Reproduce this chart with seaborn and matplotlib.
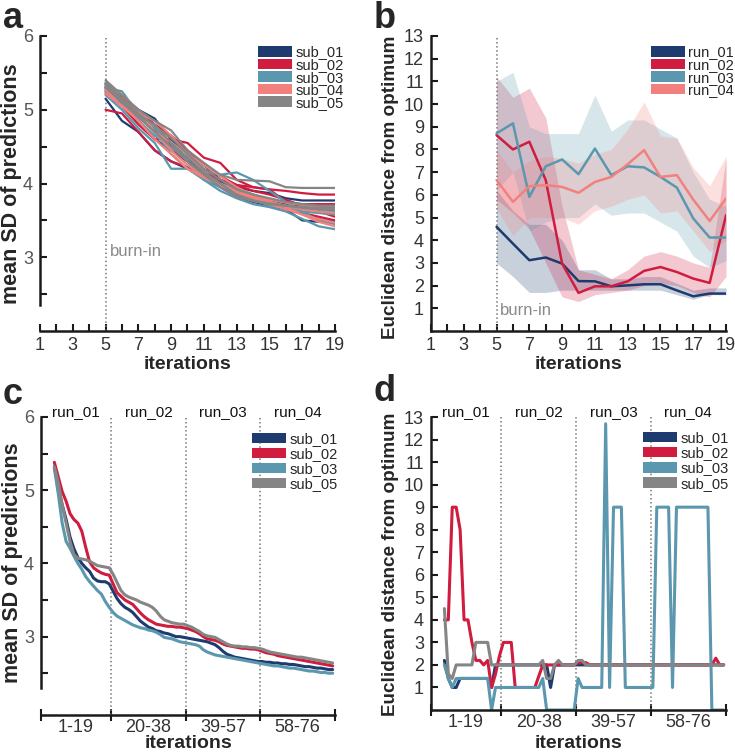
import numpy as np
import pandas as pd
import matplotlib
matplotlib.use("Agg")
import matplotlib.pyplot as plt
import seaborn as sns
from matplotlib.patches import Patch

sns.set_style("ticks")
plt.rcParams['font.family'] = ['Liberation Sans', 'DejaVu Sans']

###########################################################
# DATA
###########################################################

iters_ab = list(range(5, 20))
iters_cd = list(range(5, 77))

subjects = ["sub_01", "sub_02", "sub_03", "sub_04", "sub_05"]
runs = ["run_01", "run_02", "run_03", "run_04"]
subjects_cd = ["sub_01", "sub_02", "sub_03", "sub_05"]
run_ranges = ["1-19", "20-38", "39-57", "58-76"]

# panel a: mean SD of predictions, one line per subject and run
a_sub_01 = [[5.15, 4.85, 4.70, 4.45, 4.30, 4.20, 4.10, 4.02, 3.95, 3.90, 3.87, 3.80, 3.77, 3.77, 3.77],
            [5.30, 5.05, 4.85, 4.60, 4.45, 4.30, 4.15, 4.00, 3.90, 3.80, 3.72, 3.65, 3.50, 3.48, 3.50],
            [5.25, 5.10, 4.95, 4.70, 4.52, 4.35, 4.12, 3.95, 3.82, 3.75, 3.70, 3.65, 3.60, 3.52, 3.48],
            [5.35, 5.15, 5.00, 4.88, 4.60, 4.40, 4.25, 4.05, 3.93, 3.85, 3.78, 3.72, 3.68, 3.64, 3.62]]
a_sub_02 = [[5.00, 4.95, 4.70, 4.45, 4.30, 4.22, 4.15, 4.05, 3.98, 3.95, 3.92, 3.90, 3.87, 3.85, 3.85],
            [5.22, 5.05, 4.80, 4.60, 4.60, 4.55, 4.35, 4.28, 4.05, 3.95, 3.92, 3.75, 3.72, 3.72, 3.72],
            [5.28, 5.10, 4.90, 4.72, 4.50, 4.30, 4.10, 3.98, 3.85, 3.78, 3.72, 3.66, 3.60, 3.55, 3.50],
            [5.32, 5.18, 5.00, 4.80, 4.65, 4.45, 4.25, 4.10, 3.98, 3.90, 3.85, 3.78, 3.70, 3.62, 3.55]]
a_sub_03 = [[5.30, 5.25, 4.95, 4.70, 4.40, 4.20, 4.10, 4.00, 3.92, 3.80, 3.72, 3.68, 3.65, 3.63, 3.62],
            [5.25, 5.10, 4.85, 4.65, 4.50, 4.35, 4.18, 4.12, 4.15, 4.05, 3.90, 3.75, 3.62, 3.50, 3.45],
            [5.33, 5.15, 4.90, 4.75, 4.55, 4.30, 4.05, 3.90, 3.80, 3.72, 3.68, 3.62, 3.52, 3.42, 3.38],
            [5.20, 5.00, 4.75, 4.55, 4.20, 4.20, 4.05, 3.95, 3.85, 3.78, 3.70, 3.66, 3.62, 3.60, 3.58]]
a_sub_04 = [[5.27, 5.05, 4.90, 4.70, 4.55, 4.40, 4.25, 4.10, 3.95, 3.85, 3.78, 3.74, 3.71, 3.69, 3.68],
            [5.30, 5.15, 4.95, 4.85, 4.65, 4.40, 4.15, 4.00, 3.90, 3.82, 3.75, 3.68, 3.58, 3.48, 3.42],
            [5.35, 5.20, 5.00, 4.70, 4.45, 4.25, 4.10, 3.98, 3.88, 3.80, 3.72, 3.65, 3.58, 3.52, 3.47],
            [5.22, 5.05, 4.85, 4.60, 4.40, 4.20, 4.08, 3.98, 3.90, 3.82, 3.75, 3.70, 3.65, 3.62, 3.60]]
a_sub_05 = [[5.40, 5.20, 5.00, 4.85, 4.72, 4.45, 4.28, 4.12, 4.05, 4.04, 4.03, 3.95, 3.94, 3.94, 3.94],
            [5.37, 5.15, 4.95, 4.78, 4.62, 4.40, 4.20, 4.05, 3.92, 3.85, 3.80, 3.75, 3.72, 3.70, 3.70],
            [5.35, 5.10, 4.90, 4.70, 4.50, 4.30, 4.12, 3.95, 3.82, 3.76, 3.72, 3.70, 3.67, 3.65, 3.65],
            [5.30, 5.12, 4.92, 4.80, 4.55, 4.35, 4.15, 4.00, 3.85, 3.77, 3.73, 3.70, 3.68, 3.67, 3.67]]

# panel b: euclidean distance from optimum, mean and band per run
b_run_01 = [4.59, 3.85, 3.12, 3.24, 2.97, 2.20, 2.19, 1.97, 2.01, 2.06, 2.06, 1.79, 1.53, 1.65, 1.65]
b_run_02 = [8.63, 8.00, 8.34, 6.65, 2.97, 1.68, 1.97, 1.97, 2.19, 2.65, 2.82, 2.60, 2.31, 2.12, 5.10]
b_run_03 = [8.71, 9.15, 5.91, 7.26, 7.56, 6.91, 8.04, 6.87, 7.26, 7.21, 6.79, 6.32, 4.96, 4.12, 4.12]
b_run_04 = [6.65, 5.69, 6.38, 6.43, 6.35, 6.09, 6.57, 6.79, 7.35, 7.97, 6.79, 6.87, 5.79, 4.85, 5.84]

b_run_01_lo = [3.0, 2.4, 1.7, 1.7, 1.8, 1.8, 1.8, 1.8, 1.8, 1.8, 1.8, 1.6, 1.4, 1.6, 1.6]
b_run_01_hi = [6.2, 5.3, 4.7, 4.7, 4.0, 2.7, 2.7, 2.3, 2.3, 2.4, 2.4, 2.1, 1.8, 1.9, 1.9]
b_run_02_lo = [5.8, 5.2, 4.5, 3.0, 1.5, 1.3, 1.6, 1.7, 1.8, 2.0, 2.1, 2.0, 1.7, 1.5, 2.4]
b_run_02_hi = [11.2, 10.3, 10.7, 9.4, 5.5, 2.7, 2.5, 2.3, 2.7, 3.3, 3.5, 3.3, 3.0, 2.8, 7.6]
b_run_03_lo = [6.2, 7.0, 4.4, 4.8, 5.0, 5.0, 5.6, 5.1, 5.2, 5.2, 4.8, 4.4, 3.3, 2.8, 3.1]
b_run_03_hi = [11.0, 11.4, 9.0, 8.7, 8.7, 8.7, 10.4, 8.8, 9.3, 9.3, 8.9, 8.5, 7.0, 5.8, 5.5]
b_run_04_lo = [5.4, 4.2, 5.0, 5.0, 5.0, 4.7, 5.3, 5.5, 5.8, 6.0, 5.2, 5.3, 4.4, 3.5, 4.0]
b_run_04_hi = [8.0, 7.0, 7.5, 7.7, 7.6, 7.4, 7.8, 8.0, 8.9, 10.1, 8.6, 8.5, 7.2, 6.4, 7.7]

# panel c: mean SD of predictions across concatenated runs
c_sub_01 = [5.32, 5.02, 4.80, 4.60, 4.36, 4.20, 4.08, 4.00, 3.94, 3.89,
            3.80, 3.76, 3.75, 3.75, 3.72, 3.62, 3.52, 3.45, 3.40, 3.37,
            3.33, 3.27, 3.21, 3.17, 3.13, 3.11, 3.08, 3.07, 3.05, 3.04,
            3.02, 3.00, 3.00, 2.99, 2.98, 2.97, 2.96, 2.95, 2.94, 2.93,
            2.91, 2.89, 2.85, 2.80, 2.76, 2.74, 2.72, 2.71, 2.70, 2.69,
            2.68, 2.67, 2.66, 2.66, 2.65, 2.65, 2.64, 2.64, 2.63, 2.63,
            2.62, 2.62, 2.61, 2.60, 2.59, 2.59, 2.58, 2.57, 2.57, 2.56,
            2.55, 2.55]
c_sub_02 = [5.38, 5.18, 4.98, 4.85, 4.68, 4.60, 4.55, 4.44, 4.22, 4.02,
            3.94, 3.90, 3.87, 3.85, 3.84, 3.72, 3.60, 3.55, 3.50, 3.47,
            3.44, 3.38, 3.32, 3.27, 3.23, 3.20, 3.17, 3.16, 3.15, 3.14,
            3.14, 3.13, 3.13, 3.12, 3.11, 3.09, 3.07, 3.04, 3.00, 2.97,
            2.96, 2.95, 2.93, 2.90, 2.88, 2.87, 2.86, 2.85, 2.84, 2.84,
            2.83, 2.83, 2.82, 2.80, 2.78, 2.77, 2.76, 2.74, 2.73, 2.72,
            2.71, 2.70, 2.69, 2.68, 2.67, 2.66, 2.65, 2.64, 2.63, 2.62,
            2.61, 2.60]
c_sub_03 = [5.30, 4.95, 4.55, 4.30, 4.21, 4.10, 4.00, 3.92, 3.82, 3.75,
            3.69, 3.63, 3.58, 3.48, 3.40, 3.33, 3.28, 3.25, 3.22, 3.19,
            3.16, 3.14, 3.12, 3.11, 3.09, 3.08, 3.06, 3.03, 2.99, 2.98,
            2.97, 2.95, 2.93, 2.92, 2.91, 2.90, 2.89, 2.87, 2.82, 2.79,
            2.77, 2.75, 2.74, 2.73, 2.72, 2.71, 2.70, 2.69, 2.68, 2.67,
            2.66, 2.65, 2.64, 2.63, 2.62, 2.61, 2.60, 2.60, 2.59, 2.58,
            2.57, 2.57, 2.56, 2.55, 2.54, 2.53, 2.53, 2.52, 2.51, 2.51,
            2.50, 2.50]
c_sub_05 = [5.32, 5.10, 4.80, 4.55, 4.30, 4.12, 4.07, 4.06, 4.05, 4.03,
            4.00, 3.97, 3.96, 3.95, 3.94, 3.85, 3.74, 3.63, 3.57, 3.54,
            3.52, 3.50, 3.47, 3.45, 3.43, 3.40, 3.35, 3.28, 3.23, 3.21,
            3.19, 3.18, 3.17, 3.17, 3.15, 3.13, 3.10, 3.07, 3.03, 3.01,
            3.00, 2.99, 2.96, 2.93, 2.90, 2.88, 2.87, 2.87, 2.86, 2.86,
            2.85, 2.85, 2.84, 2.83, 2.81, 2.79, 2.78, 2.77, 2.76, 2.75,
            2.74, 2.73, 2.72, 2.72, 2.71, 2.70, 2.69, 2.68, 2.67, 2.66,
            2.65, 2.64]

# panel d: euclidean distance from optimum across concatenated runs
d_sub_01 = [2.2, 1.4, 1.0, 1.0, 1.4, 1.4, 1.4, 1.4, 1.4, 1.4,
            1.4, 1.4, 1.0, 2, 2, 2, 2, 2, 2, 2,
            2, 2, 2, 2, 2, 2, 2, 1.0, 2, 2,
            2, 2, 2, 2, 2, 2, 2, 2, 2, 2,
            2, 2, 2, 2, 2, 2, 2, 2, 2, 2,
            2, 2, 2, 2, 2, 2, 2, 2, 2, 2,
            2, 2, 2, 2, 2, 2, 2, 2, 2, 2,
            2, 2]
d_sub_02 = [4, 4, 9, 9, 8, 4, 4, 3, 2.2, 2.2,
            2.0, 2.2, 1.0, 1.6, 2.4, 3, 3, 3, 1.0, 1.0,
            1, 1, 1, 1, 1.5, 2, 2, 2, 2, 2,
            2, 2, 2, 2, 2.1, 2.1, 2.1, 2, 2, 2,
            2, 2, 2, 2, 2, 2, 2, 2, 2, 2,
            2, 2, 2, 2, 2, 2, 2, 2, 2, 2,
            2, 2, 2, 2, 2, 2, 2, 2, 2, 2.3,
            2, 2]
d_sub_03 = [2, 1.4, 1.0, 1.4, 1.4, 1.4, 1.4, 1.4, 1.4, 1.4,
            1.4, 1.4, 0, 1, 1, 1, 1, 1, 1, 1,
            1, 1, 1, 1, 1, 1.4, 0, 0, 0, 0,
            0, 0, 0, 0, 1.4, 1, 1, 1, 1, 1,
            1, 12.7, 1, 9, 9, 9, 1, 1, 1, 1,
            1, 1, 1, 1, 9, 9, 9, 9, 1, 9,
            9, 9, 9, 9, 9, 9, 9, 9, 0, 0,
            0, 0]
d_sub_05 = [4.5, 1.6, 1.4, 2, 2, 2, 2, 2, 3, 3,
            3, 3, 2, 2, 2, 2, 2, 2, 2, 2,
            2, 2, 2, 2, 2, 2.2, 1.4, 1.4, 2, 2.2,
            2, 2, 2, 2, 2.2, 2.2, 2, 2, 2, 2,
            2, 2, 2, 2, 2, 2, 2, 2, 2, 2,
            2, 2, 2, 2, 2, 2, 2, 2, 2, 2,
            2, 2, 2, 2, 2, 2, 2, 2, 2, 2,
            2, 2]

sub_colors = {"sub_01": "#1d3b6f", "sub_02": "#cf1c3f", "sub_03": "#5b97ae",
              "sub_04": "#f2817d", "sub_05": "#858585"}
run_colors = {"run_01": "#1d3b6f", "run_02": "#cf1c3f", "run_03": "#5b97ae", "run_04": "#f2817d"}

###########################################################
# DATAFRAMES
###########################################################

rows = []
for sub, lines in zip(subjects, [a_sub_01, a_sub_02, a_sub_03, a_sub_04, a_sub_05]):
    for r, vals in enumerate(lines):
        for it, v in zip(iters_ab, vals):
            rows.append((sub, r, it, v))
df_a = pd.DataFrame(rows, columns=["subject", "run", "iteration", "sd"])

b_means = [b_run_01, b_run_02, b_run_03, b_run_04]
b_los = [b_run_01_lo, b_run_02_lo, b_run_03_lo, b_run_04_lo]
b_his = [b_run_01_hi, b_run_02_hi, b_run_03_hi, b_run_04_hi]
df_b = pd.DataFrame({"iteration": iters_ab * 4,
                     "dist": sum(b_means, []),
                     "run": np.repeat(runs, len(iters_ab))})

df_c = pd.DataFrame({"iteration": iters_cd * 4,
                     "sd": c_sub_01 + c_sub_02 + c_sub_03 + c_sub_05,
                     "subject": np.repeat(subjects_cd, len(iters_cd))})
df_d = pd.DataFrame({"iteration": iters_cd * 4,
                     "dist": d_sub_01 + d_sub_02 + d_sub_03 + d_sub_05,
                     "subject": np.repeat(subjects_cd, len(iters_cd))})

###########################################################
# HELPERS
###########################################################

def base_style(ax, ycol="#333333"):
    sns.despine(ax=ax)
    for s in ("left", "bottom"):
        ax.spines[s].set_linewidth(1.8)
        ax.spines[s].set_color("#1a1a1a")
    ax.tick_params(which="both", direction="in", length=5, width=1.5, color="#1a1a1a",
                   labelsize=13, labelcolor="#333333")
    ax.tick_params(axis="y", pad=5, labelcolor=ycol)
    ax.tick_params(axis="x", pad=4)


def patch_legend(ax, labels, colors, anchor, spacing):
    handles = [Patch(facecolor=c, edgecolor="none", label=l) for l, c in zip(labels, colors)]
    ax.legend(handles=handles, loc="upper left", bbox_to_anchor=anchor, frameon=False,
              fontsize=10.5, handlelength=2.3, handleheight=0.72, handletextpad=0.25,
              labelspacing=spacing, borderpad=0, borderaxespad=0)


def run_axis(ax):
    bounds = [19.5, 38.5, 57.5]
    centers = [10.5, 29, 48, 67]
    ax.set_xlim(1.6, 76.6)
    ax.set_xticks([1.6] + bounds + [76.6])
    ax.set_xticklabels([""] * 5)
    ax.set_xticks(centers, minor=True)
    ax.set_xticklabels(run_ranges, minor=True)
    ax.tick_params(axis="x", which="major", direction="inout", length=9)
    ax.tick_params(axis="x", which="minor", length=0, pad=3)
    for b in bounds:
        ax.axvline(b, color="#777777", ls=":", lw=1.1, zorder=1)
    for lab, cx in zip(runs, centers):
        ax.text(cx, 1.018, lab, transform=ax.get_xaxis_transform(), ha="center", va="center",
                fontsize=11, color="#111111")


fig = plt.figure(figsize=(7.35, 7.53), dpi=100)
ax_a = fig.add_axes([0.0544, 0.5604, 0.4014, 0.3918])
ax_b = fig.add_axes([0.5864, 0.5604, 0.4014, 0.3918])
ax_c = fig.add_axes([0.0558, 0.0505, 0.4000, 0.3958])
ax_d = fig.add_axes([0.5864, 0.0571, 0.4014, 0.3891])

xlabel_kw = dict(fontsize=14, fontweight="bold")
ylabel_sd_kw = dict(fontsize=15.5, fontweight="bold")
ylabel_dist_kw = dict(fontsize=13.6, fontweight="bold")

###########################################################
# a
###########################################################

sns.lineplot(data=df_a, x="iteration", y="sd", hue="subject", units="run", estimator=None,
             palette=sub_colors, lw=1.6, legend=False, ax=ax_a)
base_style(ax_a, ycol="#555555")
ax_a.set_xlim(1, 19)
ax_a.set_ylim(2, 6)
ax_a.spines["left"].set_bounds(2.35, 6)
ax_a.set_xticks(range(1, 20, 2))
ax_a.set_xticks(range(2, 19, 2), minor=True)
ax_a.set_yticks([3, 4, 5, 6])
ax_a.set_yticklabels(["3", "4", "5", "6"])
ax_a.set_yticks([2.5, 3.5, 4.5, 5.5], minor=True)
ax_a.axvline(5, color="#777777", ls=":", lw=1.1, zorder=1)
ax_a.text(5.25, 3.02, "burn-in", color="#8a8a8a", fontsize=12, va="baseline")
ax_a.set_xlabel("iterations", **xlabel_kw)
ax_a.set_ylabel("mean SD of predictions", **ylabel_sd_kw)
ax_a.xaxis.set_label_coords(0.5, -0.083)
ax_a.yaxis.set_label_coords(-0.062, 0.5)
patch_legend(ax_a, subjects, [sub_colors[s] for s in subjects], (0.739, 0.968), -0.1)

###########################################################
# b
###########################################################

for run, lo, hi in zip(runs, b_los, b_his):
    ax_b.fill_between(iters_ab, lo, hi, color=run_colors[run], alpha=0.24, lw=0)
sns.lineplot(data=df_b, x="iteration", y="dist", hue="run", estimator=None,
             palette=run_colors, lw=1.8, legend=False, ax=ax_b)
base_style(ax_b)
ax_b.set_xlim(1, 19)
ax_b.set_ylim(0, 13)
ax_b.set_xticks(range(1, 20, 2))
ax_b.set_xticks(range(2, 19, 2), minor=True)
ax_b.set_yticks(range(1, 14))
ax_b.axvline(5, color="#777777", ls=":", lw=1.1, zorder=1)
ax_b.text(5.2, 0.69, "burn-in", color="#8a8a8a", fontsize=12, va="baseline")
ax_b.set_xlabel("iterations", **xlabel_kw)
ax_b.set_ylabel("Euclidean distance from optimum", **ylabel_dist_kw)
ax_b.xaxis.set_label_coords(0.5, -0.083)
ax_b.yaxis.set_label_coords(-0.108, 0.487)
patch_legend(ax_b, runs, [run_colors[r] for r in runs], (0.746, 0.968), -0.1)

###########################################################
# c
###########################################################

sns.lineplot(data=df_c, x="iteration", y="sd", hue="subject", hue_order=subjects_cd,
             estimator=None, palette=sub_colors, lw=2.2, legend=False, ax=ax_c)
base_style(ax_c, ycol="#555555")
ax_c.set_ylim(1.93, 6)
ax_c.spines["left"].set_bounds(2.3, 6)
ax_c.set_yticks([3, 4, 5, 6])
ax_c.set_yticklabels(["3", "4", "5", "6"])
ax_c.set_yticks([2.5, 3.5, 4.5, 5.5], minor=True)
run_axis(ax_c)
ax_c.set_xlabel("iterations", **xlabel_kw)
ax_c.set_ylabel("mean SD of predictions", **ylabel_sd_kw)
ax_c.xaxis.set_label_coords(0.5, -0.068)
ax_c.yaxis.set_label_coords(-0.062, 0.51)
patch_legend(ax_c, subjects_cd, [sub_colors[s] for s in subjects_cd], (0.718, 0.95), 0.08)

###########################################################
# d
###########################################################

sns.lineplot(data=df_d, x="iteration", y="dist", hue="subject", hue_order=subjects_cd,
             estimator=None, palette=sub_colors, lw=2.2, legend=False, ax=ax_d)
base_style(ax_d)
ax_d.set_ylim(0, 13)
ax_d.set_yticks(range(1, 14))
run_axis(ax_d)
ax_d.set_xlabel("iterations", **xlabel_kw)
ax_d.set_ylabel("Euclidean distance from optimum", **ylabel_dist_kw)
ax_d.xaxis.set_label_coords(0.5, -0.085)
ax_d.yaxis.set_label_coords(-0.108, 0.497)
patch_legend(ax_d, subjects_cd, [sub_colors[s] for s in subjects_cd], (0.719, 0.952), 0.08)

# panel letters
fig.text(0.004, 0.999, "a", fontsize=26, fontweight="bold", va="top", ha="left")
fig.text(0.508, 0.999, "b", fontsize=26, fontweight="bold", va="top", ha="left")
fig.text(0.004, 0.463, "c", fontsize=26, fontweight="bold", va="baseline", ha="left")
fig.text(0.508, 0.467, "d", fontsize=26, fontweight="bold", va="baseline", ha="left")

fig.savefig("out.png", dpi=100)
